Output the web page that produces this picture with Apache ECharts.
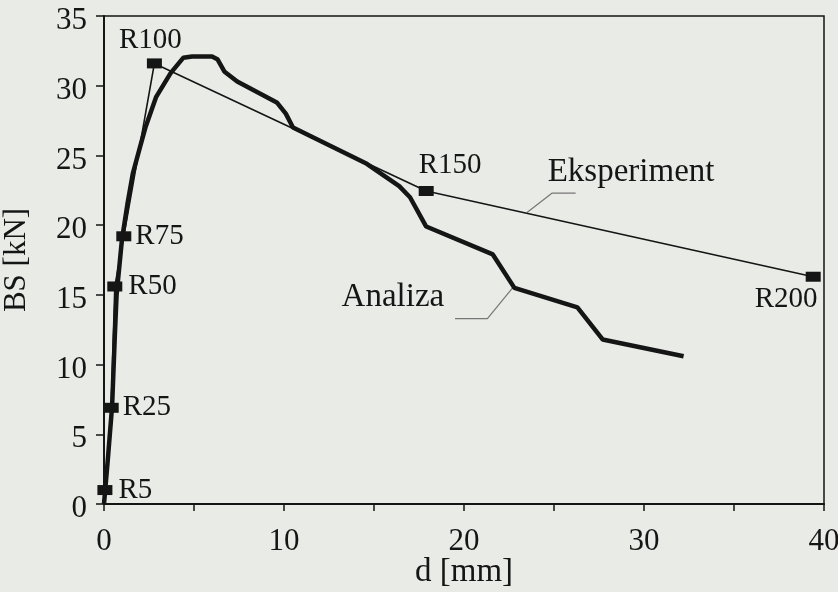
<!DOCTYPE html>
<html>
<head>
<meta charset="utf-8">
<script src="https://cdn.jsdelivr.net/npm/echarts@6/dist/echarts.min.js"></script>
<style>
  html, body { margin: 0; padding: 0; background: #e9ebe7; }
  #bsChart { width: 838px; height: 592px; }
</style>
</head>
<body>
<div id="bsChart"></div>
<script>
// Eksperiment - izmerjene tocke (d [mm], BS [kN])
var expNames = ["R5", "R25", "R50", "R75", "R100", "R150", "R200"];
var expD = [0.05, 0.4, 0.6, 1.1, 2.8, 17.9, 39.4];
var expBS = [1.0, 6.9, 15.6, 19.2, 31.6, 22.45, 16.3];

// Analiza - racunska krivulja
var anaD = [0, 0.2, 0.45, 0.6, 0.7, 1.0, 1.3, 1.6, 2.0, 2.3, 2.9, 3.7, 4.4, 4.9, 6.0, 6.3, 6.7, 7.4, 9.6, 10.1, 10.5, 14.6, 16.4, 17.0, 17.9, 21.6, 22.8, 26.3, 27.7, 32.2];
var anaBS = [0, 3, 7, 12, 15, 19, 21.5, 23.7, 25.6, 27.0, 29.2, 30.9, 32.0, 32.1, 32.1, 31.9, 31.0, 30.3, 28.8, 28.0, 27.0, 24.4, 22.8, 22.0, 19.9, 17.9, 15.5, 14.1, 11.8, 10.6];

var xTicks = [0, 5, 10, 15, 20, 25, 30, 35, 40];
var yTicks = [0, 5, 10, 15, 20, 25, 30, 35];

var chart = echarts.init(document.getElementById("bsChart"));
var ink = "#151515";
var serif = "Liberation Serif";

// polozaji oznak ob tockah
var labelStyle = {
  R5: { position: "right", distance: 6 },
  R25: { position: "right", distance: 4 },
  R50: { position: "right", distance: 6 },
  R75: { position: "right", distance: 4 },
  R100: { position: "top", distance: 4, offset: [-4, 0] },
  R150: { position: "top", distance: 6, offset: [24, 0] },
  R200: { position: "bottom", distance: 3, offset: [-27, 0] }
};

var expData = [{ value: [0, 0], symbol: "none" }];
expNames.forEach(function(name, i) {
  var lab = labelStyle[name];
  expData.push({
    value: [expD[i], expBS[i]],
    name: name,
    label: {
      show: true,
      formatter: name,
      position: lab.position,
      distance: lab.distance,
      offset: lab.offset || [0, 0]
    }
  });
});

var anaData = anaD.map(function(d, i) {
  return [d, anaBS[i]];
});

// kazalne crte in napisa
var leaderExp = [[26.2, 22.3], [24.9, 22.3], [23.5, 20.9]];
var leaderAna = [[19.5, 13.3], [21.3, 13.3], [22.7, 15.5]];
var notes = [
  { value: [24.65, 23.8], name: "Eksperiment" },
  { value: [13.2, 14.8], name: "Analiza" }
];

chart.setOption({
  backgroundColor: "#e9ebe7",
  animation: false,
  textStyle: { fontFamily: serif, color: ink },
  grid: {
    left: 104,
    right: 14,
    top: 16,
    bottom: 88,
    outerBoundsMode: "none",
    show: true,
    borderColor: ink,
    borderWidth: 1.5,
    backgroundColor: "transparent"
  },
  xAxis: {
    type: "value",
    min: xTicks[0],
    max: xTicks[xTicks.length - 1],
    interval: 5,
    name: "d [mm]",
    nameLocation: "middle",
    nameGap: 52,
    nameMoveOverlap: false,
    nameTextStyle: { fontFamily: serif, fontSize: 33, color: ink },
    splitLine: { show: false },
    axisLine: { lineStyle: { color: ink, width: 2 } },
    axisTick: { length: 7, lineStyle: { color: ink, width: 1.5 } },
    axisLabel: {
      fontFamily: serif,
      fontSize: 31,
      color: ink,
      margin: 22,
      hideOverlap: false,
      formatter: function(v) {
        return v % 10 === 0 ? v : "";
      }
    }
  },
  yAxis: {
    type: "value",
    min: yTicks[0],
    max: yTicks[yTicks.length - 1],
    interval: 5,
    name: "BS [kN]",
    nameLocation: "middle",
    nameGap: 72,
    nameMoveOverlap: false,
    nameTextStyle: { fontFamily: serif, fontSize: 31, color: ink },
    splitLine: { show: false },
    axisLine: { lineStyle: { color: ink, width: 2 } },
    axisTick: { length: 8, lineStyle: { color: ink, width: 1.5 } },
    axisLabel: {
      color: ink,
      margin: 17,
      formatter: function(v) {
        return "{t|" + v + "}";
      },
      rich: {
        t: { fontFamily: serif, fontSize: 31, color: ink, padding: [10, 0, 0, 0] }
      }
    }
  },
  series: [
    {
      name: "Analiza",
      type: "line",
      data: anaData,
      symbol: "none",
      smooth: false,
      lineStyle: { color: ink, width: 4.5 },
      z: 3
    },
    {
      name: "Eksperiment",
      type: "line",
      data: expData,
      symbol: "rect",
      symbolSize: [15, 10],
      itemStyle: { color: ink },
      lineStyle: { color: ink, width: 1.6 },
      label: { fontFamily: serif, fontSize: 29, color: ink },
      z: 4
    },
    {
      type: "line",
      data: leaderExp,
      symbol: "none",
      silent: true,
      lineStyle: { color: "#777777", width: 1.2 },
      z: 2
    },
    {
      type: "line",
      data: leaderAna,
      symbol: "none",
      silent: true,
      lineStyle: { color: "#777777", width: 1.2 },
      z: 2
    },
    {
      type: "scatter",
      data: notes,
      symbolSize: 0,
      silent: true,
      itemStyle: { opacity: 1, color: ink },
      label: {
        show: true,
        position: "right",
        distance: 0,
        formatter: "{b}",
        fontFamily: serif,
        fontSize: 33,
        color: ink
      }
    }
  ]
});

window.onresize = function() {
  chart.resize();
};
</script>
</body>
</html>
